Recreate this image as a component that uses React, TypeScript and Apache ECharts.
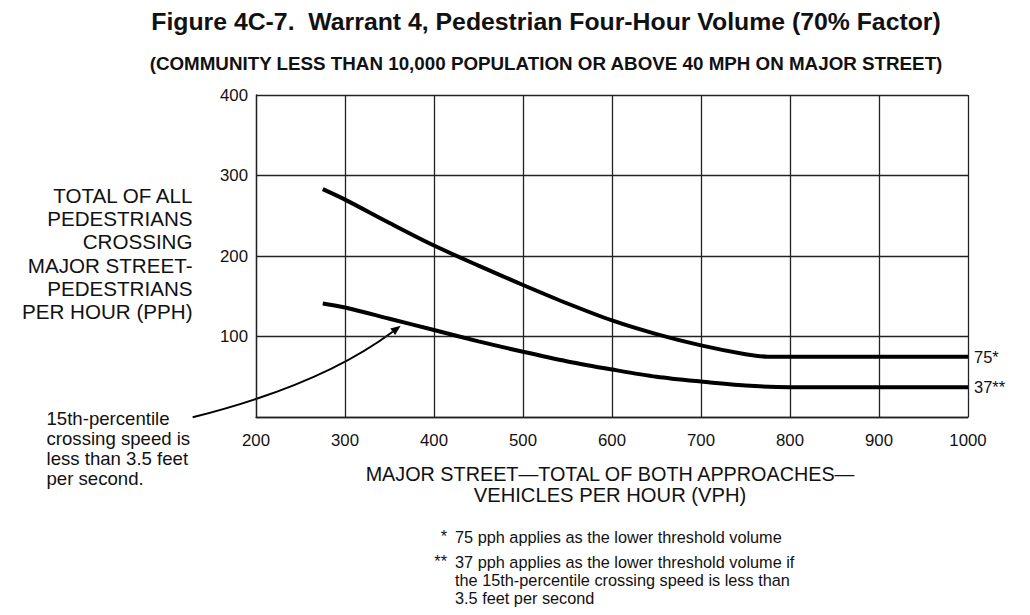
import React, { useEffect, useRef } from "react";
import * as echarts from "echarts";

// readings from the figure (VPH on x, PPH on y)
const upperX = [275, 300, 350, 400, 450, 500, 550, 600, 650, 700, 750, 775, 800, 900, 1000];
const upperY = [283, 270, 241, 213, 188, 164, 141, 120, 103, 89, 78, 75, 75, 75, 75];
const lowerX = [275, 300, 350, 400, 450, 500, 550, 600, 650, 700, 750, 800, 900, 1000];
const lowerY = [141, 136, 122, 108, 94, 81, 69, 59, 50, 44, 39, 37, 37, 37];
const endTags = ["75*", "37**"];

const FONT = "'Liberation Sans', Arial, Helvetica, sans-serif";
const INK = "#111";

const App = () => {
  const chartRef = useRef<HTMLDivElement>(null);
  useEffect(() => {
    const chart = echarts.init(chartRef.current as HTMLDivElement, null, { renderer: "svg" });

    const makeSeries = (xs: number[], ys: number[], tag: string) => ({
      type: "line",
      data: xs.map((x, i) => [x, ys[i]]),
      smooth: 0.3,
      symbol: "none",
      lineStyle: { color: "#000", width: 4 },
      endLabel: {
        show: true,
        formatter: tag,
        distance: 6,
        color: INK,
        fontSize: 16.5,
        fontFamily: FONT,
      },
    });

    // arrow from the note to the lower curve
    const tip = [400.7, 325.7];
    const cp = [321.5, 384.9];
    const dx = tip[0] - cp[0];
    const dy = tip[1] - cp[1];
    const len = Math.sqrt(dx * dx + dy * dy);
    const ux = dx / len;
    const uy = dy / len;
    const bx = tip[0] - 10 * ux;
    const by = tip[1] - 10 * uy;

    const option = {
      animation: false,
      backgroundColor: "#fff",
      title: [
        {
          text: "Figure 4C-7.  Warrant 4, Pedestrian Four-Hour Volume (70% Factor)",
          left: 541,
          top: 4,
          textAlign: "center",
          textStyle: { fontFamily: FONT, fontWeight: "bold", fontSize: 24.8, color: INK },
        },
        {
          text: "(COMMUNITY LESS THAN 10,000 POPULATION OR ABOVE 40 MPH ON MAJOR STREET)",
          left: 541,
          top: 49,
          textAlign: "center",
          textStyle: { fontFamily: FONT, fontWeight: "bold", fontSize: 18.8, color: INK },
        },
      ],
      grid: { left: 256, right: 62, top: 95, bottom: 198 },
      xAxis: {
        type: "value",
        min: 200,
        max: 1000,
        interval: 100,
        axisLine: { show: true, lineStyle: { color: "#222", width: 1.3 } },
        axisTick: { show: false },
        splitLine: { show: true, lineStyle: { color: "#222", width: 1.3 } },
        axisLabel: {
          margin: 15,
          color: INK,
          fontSize: 16.8,
          fontFamily: FONT,
          formatter: (v: number) => String(v),
        },
      },
      yAxis: {
        type: "value",
        min: 0,
        max: 400,
        interval: 100,
        axisLine: { show: true, lineStyle: { color: "#222", width: 1.3 } },
        axisTick: { show: false },
        splitLine: { show: true, lineStyle: { color: "#222", width: 1.3 } },
        axisLabel: {
          margin: 8,
          color: INK,
          fontSize: 16.8,
          fontFamily: FONT,
          formatter: (v: number) => (v === 0 ? "" : String(v)),
        },
      },
      series: [makeSeries(upperX, upperY, endTags[0]), makeSeries(lowerX, lowerY, endTags[1])],
      graphic: [
        {
          type: "text",
          x: 192.5,
          y: 183.5,
          style: {
            text: "TOTAL OF ALL\nPEDESTRIANS\nCROSSING\nMAJOR STREET-\nPEDESTRIANS\nPER HOUR (PPH)",
            align: "right",
            verticalAlign: "top",
            lineHeight: 23.3,
            fontSize: 20.6,
            fontFamily: FONT,
            fill: INK,
          },
        },
        {
          type: "text",
          x: 46.5,
          y: 408.3,
          style: {
            text: "15th-percentile\ncrossing speed is\nless than 3.5 feet\nper second.",
            align: "left",
            verticalAlign: "top",
            lineHeight: 20,
            fontSize: 18.6,
            fontFamily: FONT,
            fill: INK,
          },
        },
        {
          type: "text",
          x: 610,
          y: 463.5,
          style: {
            text: "MAJOR STREET\u2014TOTAL OF BOTH APPROACHES\u2014",
            align: "center",
            verticalAlign: "top",
            lineHeight: 20.5,
            fontSize: 19.8,
            fontFamily: FONT,
            fill: INK,
          },
        },
        {
          type: "text",
          x: 610,
          y: 484.5,
          style: {
            text: "VEHICLES PER HOUR (VPH)",
            align: "center",
            verticalAlign: "top",
            lineHeight: 20,
            fontSize: 20.2,
            fontFamily: FONT,
            fill: INK,
          },
        },
        {
          type: "text",
          x: 447,
          y: 528,
          style: { text: "*", align: "right", verticalAlign: "top", fontSize: 16.3, fontFamily: FONT, fill: INK },
        },
        {
          type: "text",
          x: 455,
          y: 528,
          style: {
            text: "75 pph applies as the lower threshold volume",
            align: "left",
            verticalAlign: "top",
            lineHeight: 18.5,
            fontSize: 16.3,
            fontFamily: FONT,
            fill: INK,
          },
        },
        {
          type: "text",
          x: 447,
          y: 552.5,
          style: { text: "**", align: "right", verticalAlign: "top", fontSize: 16.3, fontFamily: FONT, fill: INK },
        },
        {
          type: "text",
          x: 455,
          y: 552.5,
          style: {
            text: "37 pph applies as the lower threshold volume if\nthe 15th-percentile crossing speed is less than\n3.5 feet per second",
            align: "left",
            verticalAlign: "top",
            lineHeight: 18.3,
            fontSize: 16.3,
            fontFamily: FONT,
            fill: INK,
          },
        },
        {
          type: "bezierCurve",
          shape: { x1: 192.7, y1: 417.3, x2: bx, y2: by, cpx1: cp[0], cpy1: cp[1] },
          style: { stroke: "#000", lineWidth: 2, fill: null },
        },
        {
          type: "polygon",
          shape: {
            points: [
              [tip[0], tip[1]],
              [bx - 4 * uy, by + 4 * ux],
              [bx + 4 * uy, by - 4 * ux],
            ],
          },
          style: { fill: "#000" },
        },
      ],
    };
    chart.setOption(option);

    return () => {
      chart.dispose();
    };
  }, []);

  return (
    <div
      ref={chartRef}
      style={{ position: "absolute", left: 0, top: 0, width: "1030px", height: "615px" }}
    />
  );
};

export default App;
